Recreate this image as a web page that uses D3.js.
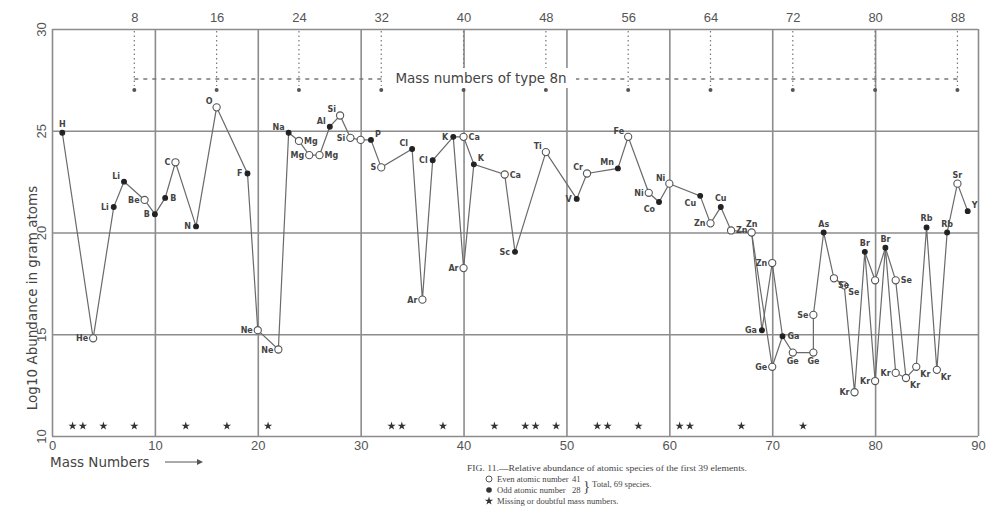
<!DOCTYPE html>
<html>
<head>
<meta charset="utf-8">
<script src="https://cdn.jsdelivr.net/npm/d3@7"></script>
<style>
  body { margin: 0; background: #fff; }
  svg { display: block; font-family: "DejaVu Sans", sans-serif; }
  .grid line { stroke: #8c8c8c; stroke-width: 1.6; }
  .grid path { display: none; }
  .ticklbl text { fill: #555; font-size: 13px; }
  .chain { fill: none; stroke: #6a6a6a; stroke-width: 1.2; }
  .sym { font-size: 8px; font-weight: bold; fill: #444; }
  .caption { font-family: "Liberation Serif", serif; fill: #444; font-size: 8.6px; }
</style>
</head>
<body>
<svg id="chart" width="996" height="521"></svg>
<script>
// species plotted, in order of mass number
const symbols = ['H', 'He', 'Li', 'Li', 'Be', 'B', 'B', 'C', 'N', 'O', 'F', 'Ne', 'Ne', 'Na',
  'Mg', 'Mg', 'Mg', 'Al', 'Si', 'Si', 'Si', 'P', 'S', 'Cl', 'Ar', 'Cl', 'K', 'Ar', 'Ca', 'K',
  'Ca', 'Sc', 'Ti', 'V', 'Cr', 'Mn', 'Fe', 'Ni', 'Co', 'Ni', 'Cu', 'Zn', 'Cu', 'Zn', 'Zn',
  'Ga', 'Zn', 'Ge', 'Ga', 'Ge', 'Ge', 'Se', 'As', 'Se', 'Se', 'Kr', 'Br', 'Se', 'Kr', 'Br',
  'Se', 'Kr', 'Kr', 'Kr', 'Rb', 'Kr', 'Rb', 'Sr', 'Y'];
const massNumbers = [1, 4, 6, 7, 9, 10, 11, 12, 14, 16, 19, 20, 22, 23,
  24, 25, 26, 27, 28, 29, 30, 31, 32, 35, 36, 37, 39, 40, 40, 41,
  44, 45, 48, 51, 52, 55, 56, 58, 59, 60, 63, 64, 65, 66, 68,
  69, 70, 70, 71, 72, 74, 74, 75, 76, 77, 78, 79, 80, 80, 81,
  82, 82, 83, 84, 85, 86, 87, 88, 89];
const logAbundance = [24.9, 14.8, 21.25, 22.5, 21.6, 20.9, 21.7, 23.45, 20.3, 26.15, 22.9, 15.2, 14.25, 24.9,
  24.5, 23.8, 23.8, 25.2, 25.75, 24.65, 24.55, 24.55, 23.2, 24.1, 16.7, 23.55, 24.7, 18.25, 24.7, 23.35,
  22.85, 19.05, 23.95, 21.65, 22.9, 23.15, 24.7, 21.95, 21.5, 22.4, 21.8, 20.45, 21.25, 20.1, 20.0,
  15.2, 18.5, 13.4, 14.9, 14.1, 14.1, 15.95, 20.0, 17.75, 17.4, 12.15, 19.05, 17.65, 12.7, 19.25,
  17.65, 13.1, 12.85, 13.4, 20.25, 13.25, 20.0, 22.4, 21.05];
// 1 = odd atomic number (filled), 0 = even atomic number (open)
const oddAtomic = [1, 0, 1, 1, 0, 1, 1, 0, 1, 0, 1, 0, 0, 1,
  0, 0, 0, 1, 0, 0, 0, 1, 0, 1, 0, 1, 1, 0, 0, 1,
  0, 1, 0, 1, 0, 1, 0, 0, 1, 0, 1, 0, 1, 0, 0,
  1, 0, 0, 1, 0, 0, 0, 1, 0, 0, 0, 1, 0, 0, 1,
  0, 0, 0, 0, 1, 0, 1, 0, 1];

// how the points are joined (keys are symbol + mass number)
const mainChain = ['H1', 'He4', 'Li6', 'Li7', 'Be9', 'B10', 'B11', 'C12', 'N14', 'O16', 'F19', 'Ne20',
  'Ne22', 'Na23', 'Mg24', 'Mg25', 'Mg26', 'Al27', 'Si28', 'Si29', 'Si30', 'P31', 'S32', 'Cl35',
  'Ar36', 'Cl37', 'K39', 'Ca40', 'K41', 'Ca44', 'Sc45', 'Ti48', 'V51', 'Cr52', 'Mn55', 'Fe56',
  'Ni58', 'Co59', 'Ni60', 'Cu63', 'Zn64', 'Cu65', 'Zn66', 'Zn68', 'Ga69', 'Zn70', 'Ga71', 'Ge72',
  'Ge74', 'Se74', 'As75', 'Se76', 'Se77', 'Kr78', 'Br79', 'Kr80', 'Br81', 'Kr82', 'Kr83', 'Kr84',
  'Rb85', 'Kr86', 'Rb87', 'Sr88', 'Y89'];
const sideChains = [
  ['K39', 'Ar40', 'K41'],
  ['Zn68', 'Ge70', 'Ga71'],
  ['Br79', 'Se80', 'Br81'],
  ['Br81', 'Se82', 'Kr83']
];

const missingMass = [2, 3, 5, 8, 13, 17, 21, 33, 34, 38, 43, 46, 47, 49, 53, 54, 57, 61, 62, 67, 73];
const massTicks = [0, 10, 20, 30, 40, 50, 60, 70, 80, 90];
const abundTicks = [10, 15, 20, 25, 30];
const type8nTicks = [8, 16, 24, 32, 40, 48, 56, 64, 72, 80, 88];

// where each element symbol sits relative to its point (default: left)
const labelSide = {
  H1: 't', Li7: 'tl', B11: 'r', O16: 'tl', Na23: 'tl', Mg24: 'r', Mg26: 'r', Al27: 'tl',
  Si28: 'tl', Si30: 'none', P31: 'tr', Cl35: 'tl', Ca40: 'r', K41: 'tr', Ca44: 'r', Ti48: 'tl',
  Cr52: 'tl', Mn55: 'tl', Fe56: 'tl', Co59: 'bl', Ni60: 'tl', Cu63: 'bl', Cu65: 't', Zn66: 'r',
  Zn68: 't', Ga71: 'r', Ge72: 'b', Ge74: 'b', As75: 't', Se76: 'br', Se77: 'br', Br79: 't',
  Se80: 'none', Br81: 't', Se82: 'r', Kr83: 'br', Kr84: 'br', Rb85: 't', Kr86: 'br', Rb87: 't',
  Sr88: 't', Y89: 'tr'
};

const species = symbols.map((s, i) => ({
  key: s + massNumbers[i],
  symbol: s,
  mass: massNumbers[i],
  value: logAbundance[i],
  odd: oddAtomic[i] === 1
}));
const byKey = new Map(species.map(d => [d.key, d]));

const svg = d3.select('#chart');
const plotLeft = 52, plotRight = 978, plotTop = 29, plotBottom = 436;

const x = d3.scaleLinear().domain([0, 90]).range([plotLeft, plotRight]);
const y = d3.scaleLinear().domain([10, 30]).range([plotBottom, plotTop]);

// vertical grid + bottom labels
const xAxis = svg.append('g')
  .attr('class', 'grid ticklbl')
  .attr('transform', `translate(0,${plotBottom})`)
  .call(d3.axisBottom(x).tickValues(massTicks).tickSize(-(plotBottom - plotTop)).tickPadding(4));
xAxis.selectAll('text').attr('dy', '0.75em');

// horizontal grid + rotated left labels
const yAxis = svg.append('g')
  .attr('class', 'grid ticklbl')
  .attr('transform', `translate(${plotLeft},0)`)
  .call(d3.axisLeft(y).tickValues(abundTicks).tickSize(-(plotRight - plotLeft)).tickPadding(0));
yAxis.selectAll('text')
  .attr('x', 0).attr('dy', 0)
  .attr('text-anchor', 'middle')
  .attr('transform', 'translate(-6,0) rotate(-90)')
  .attr('font-size', '11px');

// top labels (mass numbers of type 8n)
const topAxis = svg.append('g')
  .attr('class', 'ticklbl')
  .attr('transform', `translate(0,${plotTop})`)
  .call(d3.axisTop(x).tickValues(type8nTicks).tickSize(0).tickPadding(7));
topAxis.select('path').remove();

// 8n marker lines
const marks = svg.append('g');
marks.selectAll('line')
  .data(type8nTicks)
  .join('line')
  .attr('x1', d => x(d)).attr('x2', d => x(d))
  .attr('y1', plotTop + 2).attr('y2', 86)
  .attr('stroke', '#777').attr('stroke-width', 1.2)
  .attr('stroke-dasharray', '1.5,3');
marks.selectAll('circle')
  .data(type8nTicks)
  .join('circle')
  .attr('cx', d => x(d)).attr('cy', 90).attr('r', 2)
  .attr('fill', '#555');
svg.append('line')
  .attr('x1', x(8)).attr('x2', x(88))
  .attr('y1', 79).attr('y2', 79)
  .attr('stroke', '#777').attr('stroke-width', 1.4)
  .attr('stroke-dasharray', '4,5');
svg.append('rect')
  .attr('x', 386).attr('y', 68).attr('width', 190).attr('height', 20)
  .attr('fill', '#fff');
svg.append('text')
  .attr('x', 481).attr('y', 83)
  .attr('text-anchor', 'middle')
  .attr('font-size', '13.5px')
  .attr('fill', '#444')
  .text('Mass numbers of type 8n');

// axis titles
svg.append('text')
  .attr('transform', 'translate(37,298) rotate(-90)')
  .attr('text-anchor', 'middle')
  .attr('font-size', '13.5px')
  .attr('fill', '#444')
  .text('Log10 Abundance in gram atoms');

svg.append('text')
  .attr('x', 50).attr('y', 467)
  .attr('font-size', '13.5px')
  .attr('fill', '#444')
  .text('Mass Numbers');
svg.append('line')
  .attr('x1', 165).attr('x2', 197).attr('y1', 462).attr('y2', 462)
  .attr('stroke', '#555').attr('stroke-width', 1);
svg.append('path')
  .attr('d', 'M197,459 L203,462 L197,465 Z')
  .attr('fill', '#555');

// connecting lines
const line = d3.line().x(d => x(d.mass)).y(d => y(d.value));
svg.append('g')
  .selectAll('path')
  .data([mainChain, ...sideChains])
  .join('path')
  .attr('class', 'chain')
  .attr('d', chain => line(chain.map(k => byKey.get(k))));

// points
svg.append('g')
  .selectAll('circle')
  .data(species)
  .join('circle')
  .attr('cx', d => x(d.mass))
  .attr('cy', d => y(d.value))
  .attr('r', d => d.odd ? 2.4 : 3.6)
  .attr('fill', d => d.odd ? '#222' : '#fff')
  .attr('stroke', d => d.odd ? '#222' : '#555')
  .attr('stroke-width', 1.1);

// element symbols
const offsets = {
  l: [-5, 3, 'end'], r: [5, 3, 'start'], t: [0, -6, 'middle'], b: [0, 11, 'middle'],
  tl: [-4, -3, 'end'], tr: [4, -3, 'start'], bl: [-4, 10, 'end'], br: [4, 10, 'start']
};
svg.append('g')
  .selectAll('text')
  .data(species.filter(d => labelSide[d.key] !== 'none'))
  .join('text')
  .attr('class', 'sym')
  .each(function (d) {
    const [dx, dy, anchor] = offsets[labelSide[d.key] || 'l'];
    d3.select(this)
      .attr('x', x(d.mass) + dx)
      .attr('y', y(d.value) + dy)
      .attr('text-anchor', anchor);
  })
  .text(d => d.symbol);

// missing or doubtful mass numbers
const star = d3.symbol().type(d3.symbolStar).size(22);
svg.append('g')
  .selectAll('path')
  .data(missingMass)
  .join('path')
  .attr('transform', d => `translate(${x(d)},${plotBottom - 10})`)
  .attr('d', star)
  .attr('fill', '#333');

// caption and legend
const cap = svg.append('g').attr('class', 'caption');
cap.append('text').attr('x', 467).attr('y', 471)
  .attr('textLength', 280).attr('lengthAdjust', 'spacingAndGlyphs')
  .text('FIG. 11.—Relative abundance of atomic species of the first 39 elements.');
cap.append('circle').attr('cx', 489).attr('cy', 479).attr('r', 3)
  .attr('fill', '#fff').attr('stroke', '#444').attr('stroke-width', 0.9);
cap.append('text').attr('x', 497).attr('y', 482).text('Even atomic number');
cap.append('circle').attr('cx', 489).attr('cy', 490).attr('r', 2.8).attr('fill', '#333');
cap.append('text').attr('x', 497).attr('y', 493).text('Odd atomic number');
cap.append('text').attr('x', 572).attr('y', 482).text('41');
cap.append('text').attr('x', 572).attr('y', 493).text('28');
cap.append('text').attr('x', 583).attr('y', 491).attr('font-size', '15px').text('}');
cap.append('text').attr('x', 592).attr('y', 487).text('Total, 69 species.');
cap.append('path')
  .attr('transform', 'translate(489,501)')
  .attr('d', star)
  .attr('fill', '#333');
cap.append('text').attr('x', 497).attr('y', 504).text('Missing or doubtful mass numbers.');
</script>
</body>
</html>
